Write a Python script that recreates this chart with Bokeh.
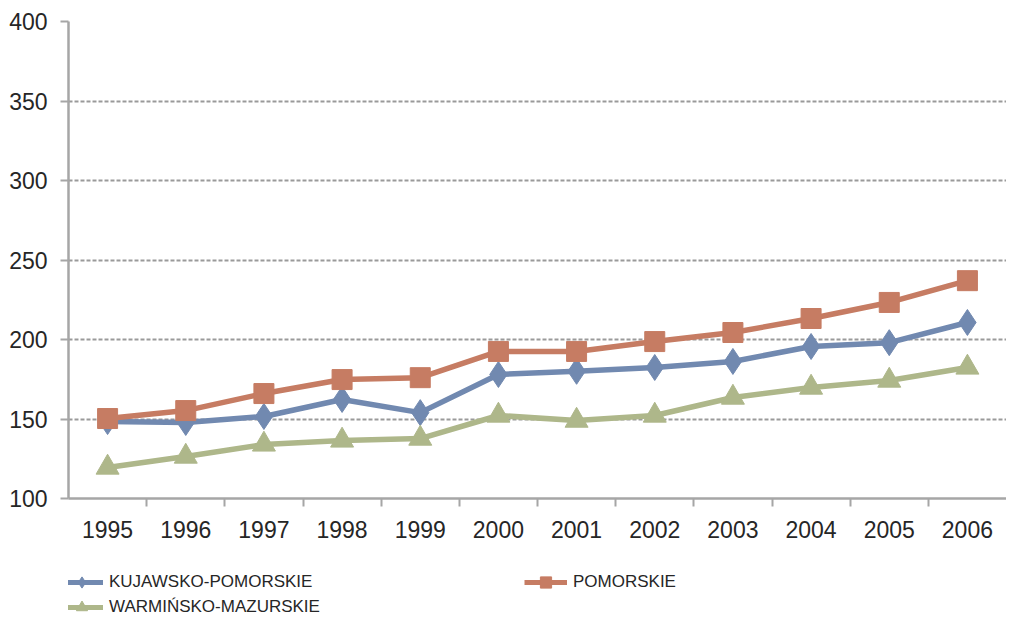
from bokeh.plotting import figure
from bokeh.layouts import column
from bokeh.models import FixedTicker, Legend, LegendItem, Range1d
from bokeh.embed import file_html
from bokeh.resources import INLINE

years = [1995, 1996, 1997, 1998, 1999, 2000, 2001, 2002, 2003, 2004, 2005, 2006]
kujawsko = [148.4, 147.8, 151.6, 162.3, 154.0, 178.0, 180.0, 182.4, 186.2, 195.6, 198.0, 210.7]
pomorskie = [150.3, 155.3, 166.0, 174.8, 176.0, 192.5, 192.5, 198.7, 204.4, 213.2, 223.3, 237.0]
warminsko = [119.5, 126.4, 134.0, 136.5, 137.7, 152.2, 149.0, 152.2, 163.5, 169.8, 174.2, 182.4]
series_names = ["KUJAWSKO-POMORSKIE", "POMORSKIE", "WARMIŃSKO-MAZURSKIE"]
y_ticks = [100, 150, 200, 250, 300, 350, 400]

BLUE = "#7189B0"
RED = "#C67C63"
GREEN = "#AEB78A"
AXIS = "#A6A6A6"
GRID = "#9A9A9A"
TEXT = "#262626"
FONT = "Liberation Sans"

p = figure(width=1006, height=546, output_backend="svg", toolbar_location=None,
           x_range=Range1d(years[0] - 0.5, years[-1] + 0.5),
           y_range=Range1d(100, 400),
           min_border_left=68, min_border_top=21, min_border_right=0,
           min_border_bottom=48)
p.outline_line_color = None
p.background_fill_color = "white"
p.border_fill_color = "white"

# axes
xax = p.xaxis[0]
xax.ticker = FixedTicker(ticks=years, minor_ticks=[y + 0.5 for y in years[:-1]])
xax.axis_line_color = AXIS
xax.axis_line_width = 2.5
xax.major_tick_line_color = None
xax.major_tick_out = 0
xax.major_tick_in = 0
xax.minor_tick_line_color = AXIS
xax.minor_tick_line_width = 2
xax.minor_tick_out = 8
xax.minor_tick_in = 0
xax.major_label_text_font = FONT
xax.major_label_text_font_size = "23px"
xax.major_label_text_color = TEXT
xax.major_label_standoff = 14

yax = p.yaxis[0]
yax.ticker = FixedTicker(ticks=y_ticks, minor_ticks=[])
yax.axis_line_color = AXIS
yax.axis_line_width = 2.5
yax.major_tick_line_color = AXIS
yax.major_tick_line_width = 2
yax.major_tick_out = 8
yax.major_tick_in = 0
yax.minor_tick_line_color = None
yax.major_label_text_font = FONT
yax.major_label_text_font_size = "23px"
yax.major_label_text_color = TEXT
yax.major_label_standoff = 13

p.xgrid.grid_line_color = None
p.ygrid.ticker = FixedTicker(ticks=y_ticks[1:])
p.ygrid.grid_line_color = GRID
p.ygrid.grid_line_width = 2
p.ygrid.grid_line_dash = "4 2"

# series
series = [kujawsko, pomorskie, warminsko]
styles = [(BLUE, "diamond", 26), (RED, "square", 20), (GREEN, "triangle", 23)]
for vals, (col, mk, sz) in zip(series, styles):
    p.line(years, vals, line_color=col, line_width=5.5)
    p.scatter(years, vals, marker=mk, size=sz, fill_color=col, line_color=col)

# legend strip below the chart (its renderers are hidden; only the legend shows)
q = figure(width=1006, height=72, output_backend="svg", toolbar_location=None,
           x_range=Range1d(years[0] - 0.5, years[-1] + 0.5), y_range=Range1d(100, 400),
           x_axis_location=None, y_axis_location=None,
           min_border_left=68, min_border_top=0, min_border_right=0, min_border_bottom=0)
q.outline_line_color = None
q.xgrid.grid_line_color = None
q.ygrid.grid_line_color = None

items = []
for name, vals, (col, mk, sz) in zip(series_names, series, styles):
    lr = q.line(years, vals, line_color=col, line_width=5, visible=False)
    sr = q.scatter(years, vals, marker=mk, size=sz, fill_color=col, line_color=col,
                   visible=False)
    items.append(LegendItem(label=name, renderers=[lr, sr]))

common = dict(glyph_width=43, glyph_height=28, label_standoff=6, padding=0, margin=0,
              border_line_color=None, background_fill_alpha=0,
              inactive_fill_alpha=0,
              label_text_font=FONT, label_text_font_size="17px", label_text_color=TEXT,
              label_height=20)
leg1 = Legend(items=items[:2], orientation="horizontal", location=(-8, 22),
              spacing=0, label_width=415, **common)
leg2 = Legend(items=items[2:], orientation="horizontal", location=(-8, -3), **common)
q.add_layout(leg1, "center")
q.add_layout(leg2, "center")

layout = column(p, q, spacing=0)
open("out.html", "w").write(file_html(layout, INLINE))
